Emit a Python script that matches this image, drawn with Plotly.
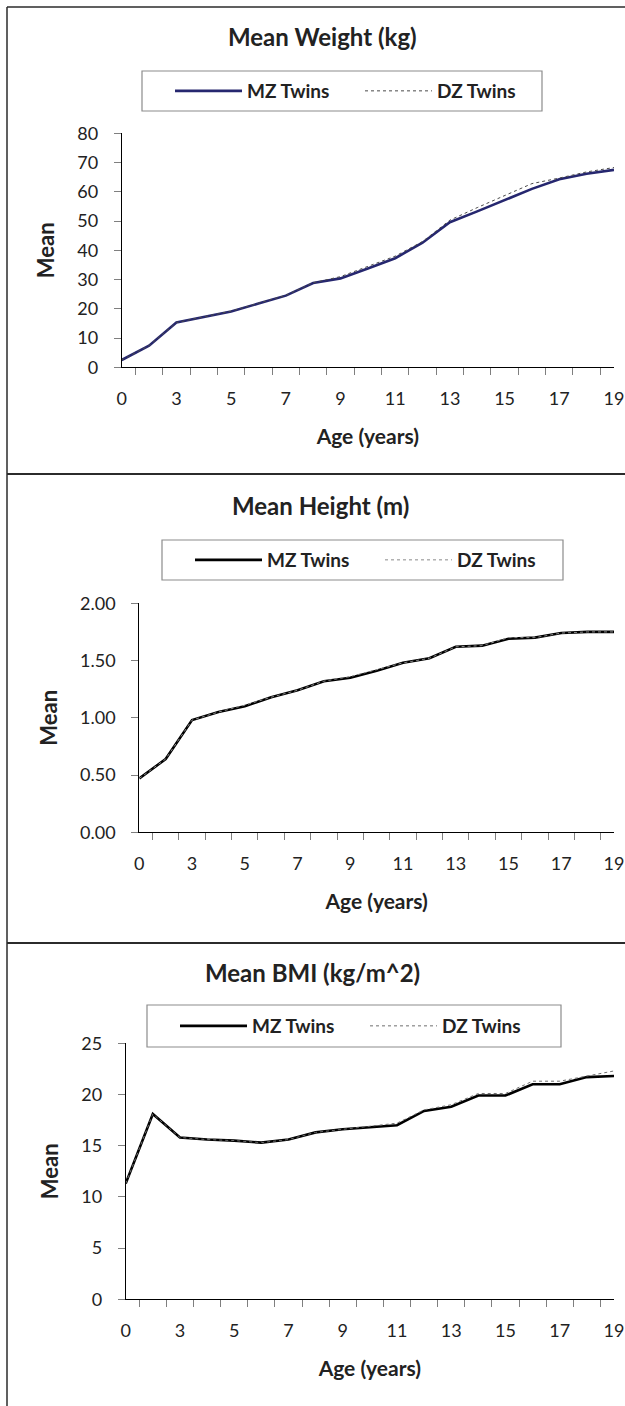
import plotly.graph_objects as go

# ---------------- data ----------------
ages = ["0", "1", "3", "4", "5", "6", "7", "8", "9", "10", "11", "12",
        "13", "14", "15", "16", "17", "18", "19"]
age_ticktext = [a if i % 2 == 0 else "" for i, a in enumerate(ages)]

weight_mz = [2.5, 7.4, 15.3, 17.2, 19.1, 21.8, 24.5, 28.8, 30.4, 33.8, 37.3,
             42.6, 49.6, 53.3, 57.2, 61.0, 64.3, 66.2, 67.5]
weight_dz = [2.5, 7.4, 15.3, 17.3, 19.2, 21.9, 24.6, 28.9, 31.0, 34.5, 38.0,
             43.0, 50.3, 54.6, 58.7, 62.8, 64.7, 66.8, 68.3]

height_mz = [0.47, 0.64, 0.98, 1.05, 1.10, 1.18, 1.24, 1.32, 1.35, 1.41, 1.48,
             1.52, 1.62, 1.63, 1.69, 1.70, 1.74, 1.75, 1.75]
height_dz = [0.47, 0.64, 0.98, 1.05, 1.11, 1.18, 1.24, 1.32, 1.36, 1.42, 1.48,
             1.52, 1.62, 1.63, 1.70, 1.70, 1.74, 1.75, 1.75]

bmi_mz = [11.3, 18.1, 15.8, 15.6, 15.5, 15.3, 15.6, 16.3, 16.6, 16.8, 17.0,
          18.4, 18.8, 19.9, 19.9, 21.0, 21.0, 21.7, 21.8]
bmi_dz = [11.3, 18.1, 15.8, 15.6, 15.5, 15.3, 15.6, 16.3, 16.6, 16.9, 17.2,
          18.5, 19.0, 20.1, 20.1, 21.3, 21.3, 21.8, 22.3]

series_names = ["MZ Twins", "DZ Twins"]
panel_titles = ["Mean Weight (kg)", "Mean Height (m)", "Mean BMI (kg/m^2)"]

# ---------------- layout helpers ----------------
W, H = 625, 1406
FONT = "Lato"
TXT = "#222222"


def fx(px):
    return px / W


def fy(py):
    return 1 - py / H


panels = [
    dict(title=panel_titles[0], mz=weight_mz, dz=weight_dz, mzcolor="#26276f",
         dzcolor="#4a4a4a",
         yrange=[0, 80], dtick=10, fmt="d", left=121.7, top=133.3, bottom=367.3,
         tcx=322, tcy=37, box=(142, 71, 542, 111)),
    dict(title=panel_titles[1], mz=height_mz, dz=height_dz, mzcolor="#000000",
         dzcolor="#8a8a8a",
         yrange=[0, 2.0], dtick=0.5, fmt=".2f", left=139.3, top=603.3, bottom=832.3,
         tcx=320, tcy=505, box=(162, 540, 563, 580)),
    dict(title=panel_titles[2], mz=bmi_mz, dz=bmi_dz, mzcolor="#000000",
         dzcolor="#6e6e6e",
         yrange=[0, 25], dtick=5, fmt="d", left=125.7, top=1043.3, bottom=1299.3,
         tcx=312, tcy=972, box=(147, 1005, 561, 1047)),
]
RIGHT = 614.0

fig = go.Figure()
annotations = []
shapes = []
layout_axes = {}

for k, p in enumerate(panels):
    n = k + 1
    xa = "x" if n == 1 else f"x{n}"
    ya = "y" if n == 1 else f"y{n}"
    lg = "legend" if n == 1 else f"legend{n}"

    fig.add_trace(go.Scatter(
        x=ages, y=p["mz"], name=series_names[0], mode="lines",
        line=dict(color=p["mzcolor"], width=2.6),
        xaxis=xa, yaxis=ya, legend=lg))
    fig.add_trace(go.Scatter(
        x=ages, y=p["dz"], name=series_names[1], mode="lines",
        line=dict(color=p["dzcolor"], width=1, dash="dot"),
        xaxis=xa, yaxis=ya, legend=lg))

    xkey = "xaxis" if n == 1 else f"xaxis{n}"
    ykey = "yaxis" if n == 1 else f"yaxis{n}"
    layout_axes[xkey] = dict(
        domain=[fx(p["left"]), fx(RIGHT)], anchor=ya, automargin=False,
        type="category", categoryorder="array", categoryarray=ages,
        tickmode="array", tickvals=ages, ticktext=age_ticktext, tickangle=0,
        tickson="boundaries", ticks="outside", ticklen=7, tickcolor="#7f7f7f",
        tickwidth=1, showline=True, linecolor="#000000", linewidth=1,
        showgrid=False, zeroline=False, ticklabelstandoff=15,
        tickfont=dict(family=FONT, size=18, color=TXT),
        title=dict(text="<b>Age (years)</b>", standoff=21,
                   font=dict(family=FONT, size=21, color=TXT)),
    )
    layout_axes[ykey] = dict(
        domain=[fy(p["bottom"]), fy(p["top"])], anchor=xa, automargin=False,
        range=p["yrange"], dtick=p["dtick"], tick0=0, tickformat=p["fmt"],
        ticks="outside", ticklen=7, tickcolor="#7f7f7f", tickwidth=1,
        showline=True, linecolor="#000000", linewidth=1,
        showgrid=False, zeroline=False, ticklabelstandoff=12,
        tickfont=dict(family=FONT, size=18, color=TXT),
        title=dict(text="<b>Mean</b>", standoff=16,
                   font=dict(family=FONT, size=22, color=TXT)),
    )

    # panel title
    annotations.append(dict(
        text=f"<b>{p['title']}</b>", x=fx(p["tcx"]), y=fy(p["tcy"]),
        xref="paper", yref="paper", xanchor="center", yanchor="middle",
        showarrow=False, font=dict(family=FONT, size=24, color=TXT)))

    # legend frame
    x0, y0, x1, y1 = p["box"]
    shapes.append(dict(type="rect", xref="paper", yref="paper",
                       x0=fx(x0), x1=fx(x1), y0=fy(y1), y1=fy(y0),
                       line=dict(color="#8c8c8c", width=1.2)))
    layout_axes[lg] = dict(
        orientation="h", x=fx(x0 + 28), y=fy((y0 + y1) / 2),
        xanchor="left", yanchor="middle", bgcolor="rgba(0,0,0,0)",
        borderwidth=0, itemwidth=67, entrywidth=108, entrywidthmode="pixels",
        font=dict(family=FONT, size=19, color=TXT, weight="bold"),
        traceorder="normal", itemclick=False, itemdoubleclick=False)

# outer frame and panel separators
line_col = "#2b2b2b"
shapes.append(dict(type="line", xref="paper", yref="paper",
                   x0=fx(7), x1=fx(W), y0=fy(7), y1=fy(7),
                   line=dict(color=line_col, width=1.5)))
shapes.append(dict(type="line", xref="paper", yref="paper",
                   x0=fx(7), x1=fx(7), y0=fy(7), y1=0,
                   line=dict(color=line_col, width=1.5)))
for ysep in (474, 943):
    shapes.append(dict(type="line", xref="paper", yref="paper",
                       x0=fx(7), x1=fx(W), y0=fy(ysep), y1=fy(ysep),
                       line=dict(color=line_col, width=2)))

fig.update_layout(
    template="none",
    width=W, height=H,
    margin=dict(l=0, r=0, t=0, b=0, pad=0),
    paper_bgcolor="white", plot_bgcolor="white",
    showlegend=True,
    annotations=annotations, shapes=shapes,
    **layout_axes,
)

fig.write_html(
    "out.html",
    config={"displayModeBar": False},
    post_script="document.body.style.margin='0';document.body.style.padding='0';"
                "document.body.style.overflow='hidden';",
)
